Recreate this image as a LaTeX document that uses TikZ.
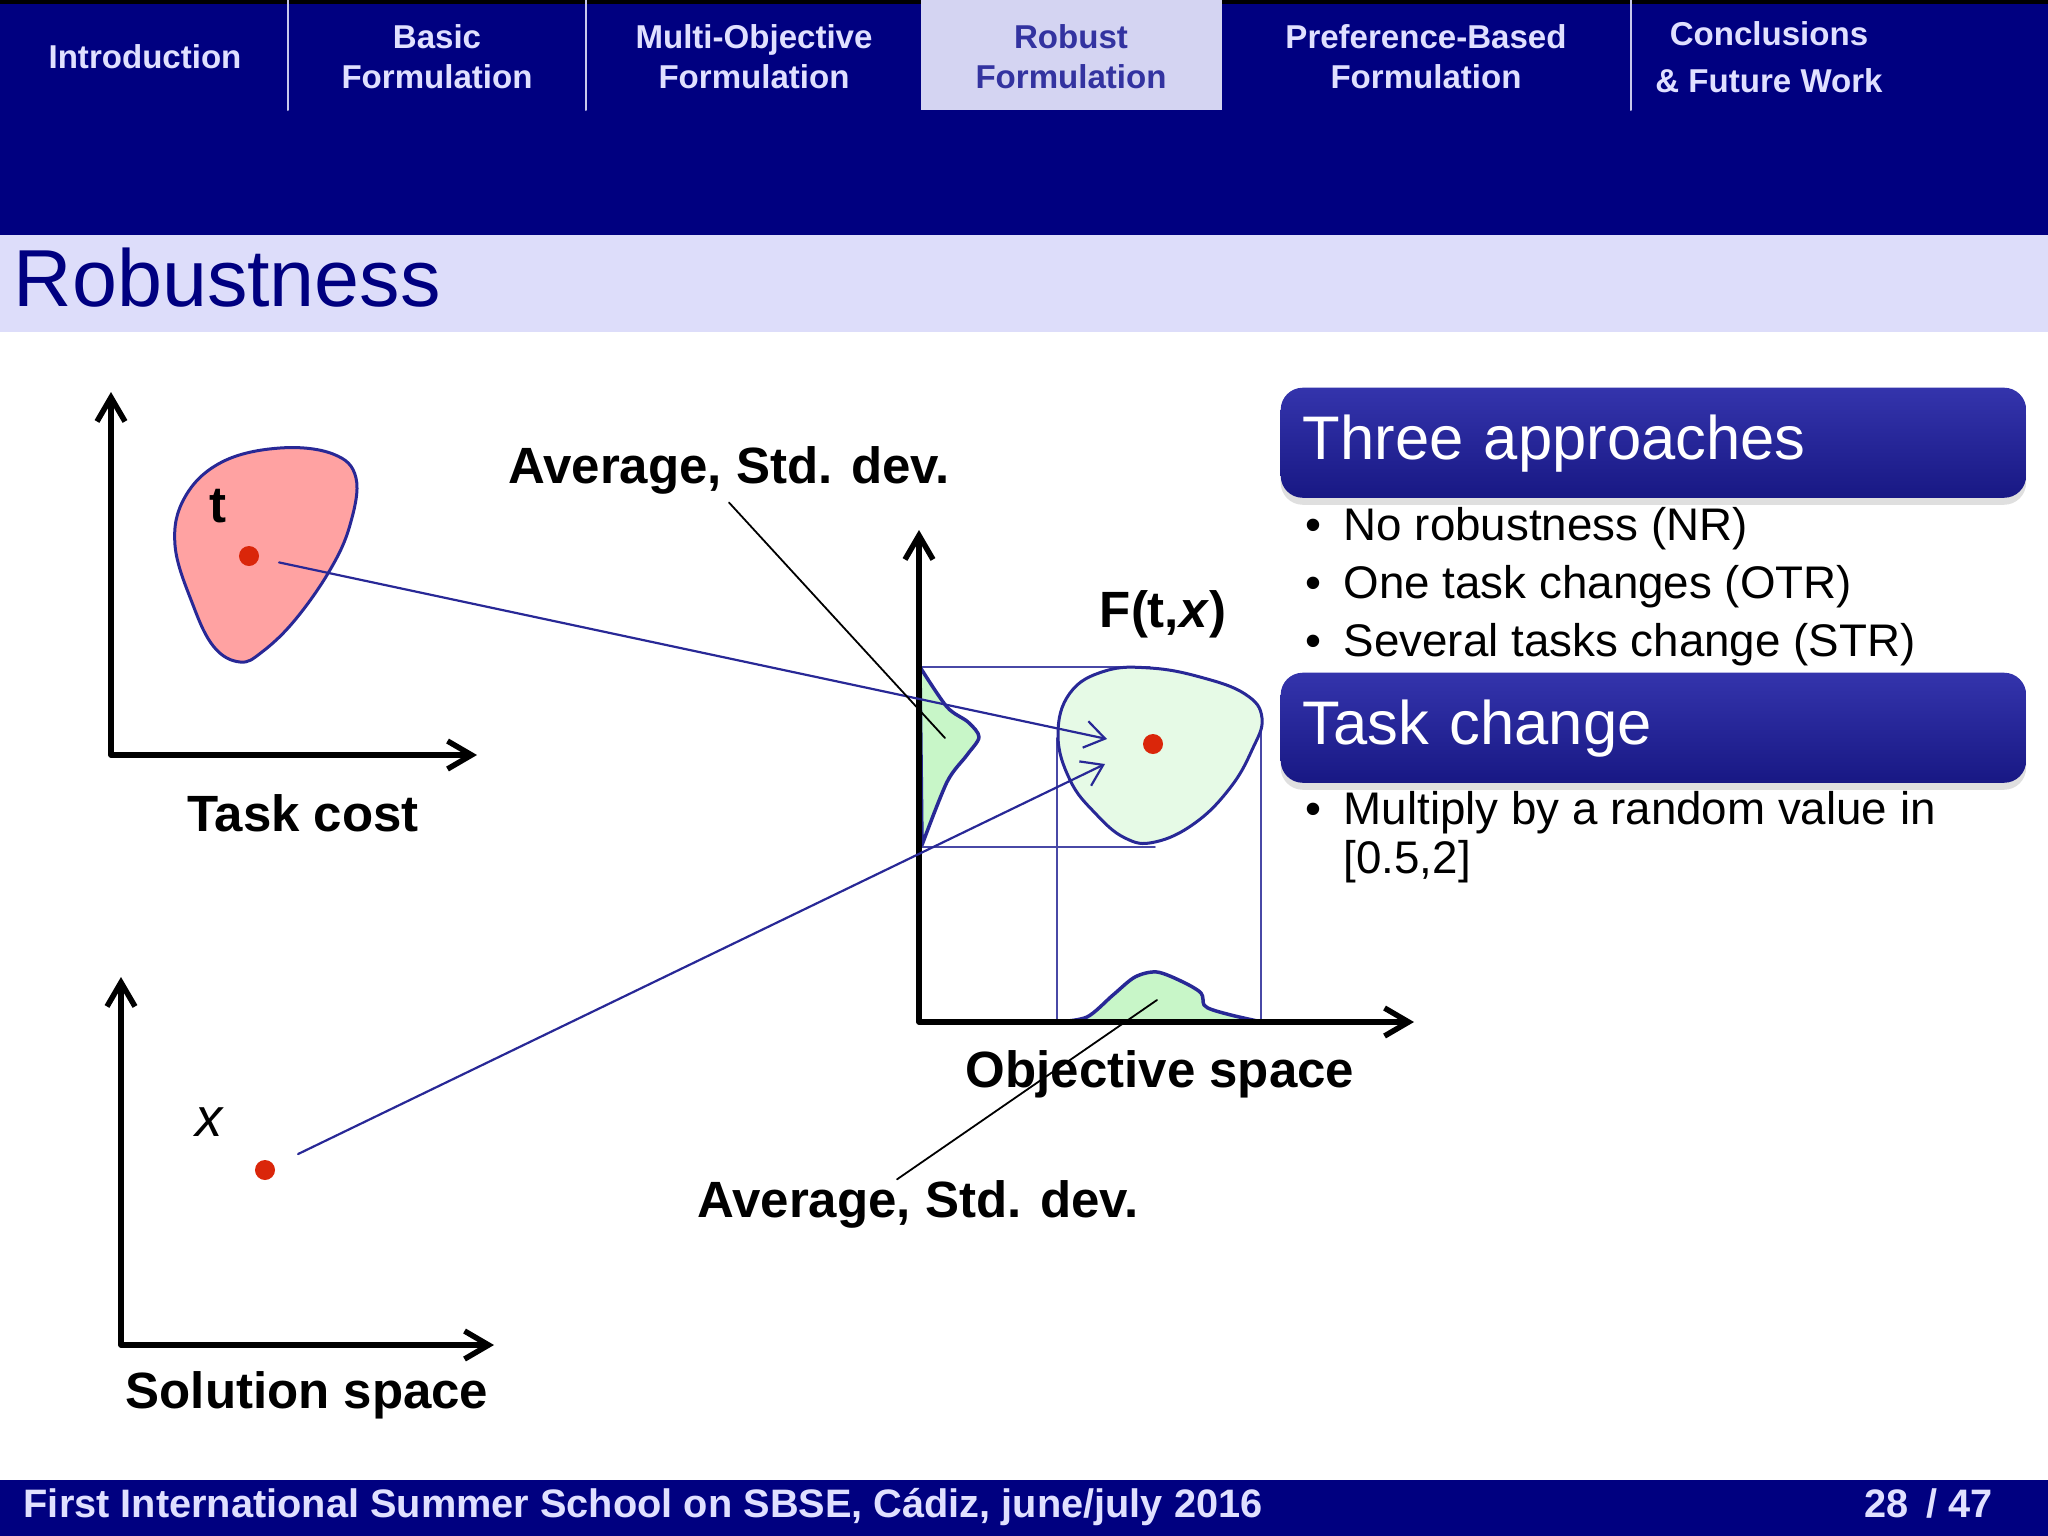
\documentclass[tikz,border=0pt]{standalone}
\usepackage{fontspec}
\setmainfont{Liberation Sans}
\usetikzlibrary{arrows.meta,shadows}
\definecolor{navy}{RGB}{0,0,128}
\definecolor{titlebg}{RGB}{221,221,250}
\definecolor{tabon}{RGB}{212,212,242}
\definecolor{tabtxt}{RGB}{224,224,255}
\definecolor{tabontxt}{RGB}{51,51,160}
\definecolor{sepline}{RGB}{200,200,235}
\definecolor{boxtop}{RGB}{52,52,172}
\definecolor{boxbot}{RGB}{24,24,132}
\definecolor{blobline}{RGB}{40,40,150}
\definecolor{pinkfill}{RGB}{255,162,162}
\definecolor{greenfill}{RGB}{230,250,230}
\definecolor{distfill}{RGB}{200,246,200}
\definecolor{dotred}{RGB}{218,38,10}
\begin{document}
\begin{tikzpicture}[x=0.01cm,y=-0.01cm, line join=round, line cap=round,
	>={Straight Barb[length=0.2cm,width=0.27cm]},
	tab/.style={align=center, text=tabtxt, font=\fontsize{9.4}{11.4}\selectfont\bfseries},
	lbl/.style={anchor=base, inner sep=0pt, font=\fontsize{14.5}{17}\selectfont\bfseries},
	item/.style={anchor=base west, inner sep=0pt, align=left, font=\fontsize{13}{13.7}\selectfont},
	headbox/.style={anchor=north west, rounded corners=0.22cm, top color=boxtop, bottom color=boxbot,
		drop shadow={shadow xshift=0pt, shadow yshift=-0.07cm, opacity=0.25},
		minimum width=7.45cm, minimum height=1.1cm, inner xsep=0.22cm, text width=7.01cm, align=left,
		text=white, text height=0.5cm, text depth=0.16cm, font=\fontsize{17.5}{21}\selectfont},
	axis/.style={line width=0.055cm, {Straight Barb[length=0.24cm,width=0.28cm]}-{Straight Barb[length=0.24cm,width=0.28cm]}},
	dot/.style={circle, fill=dotred, minimum size=0.2cm, inner sep=0pt},
	conn/.style={draw=blobline, line width=0.022cm, ->},
	proj/.style={draw=blobline!85, line width=0.018cm},
	pointer/.style={draw=black, line width=0.018cm},
	blob/.style={draw=blobline, line width=0.03cm},
	dist/.style={draw=blobline, line width=0.035cm, fill=distfill}]
\useasboundingbox (0,0) rectangle (2048,1536);
% header, title bar, footer
\fill[navy] (0,0) rectangle (2048,235);
\fill[black] (0,0) rectangle (2048,4);
\fill[tabon] (921,0) rectangle (1222,110);
\fill[titlebg] (0,235) rectangle (2048,332);
\fill[navy] (0,1480) rectangle (2048,1536);
\foreach \sx in {288,586,1631} \draw[sepline, line width=0.02cm] (\sx,0) -- (\sx,110);
\node[tab] (intro) at (145,57) {Introduction};
\node[tab] (basic) at (437,57) {Basic\\Formulation};
\node[tab] (multi) at (754,57) {Multi-Objective\\Formulation};
\node[tab, text=tabontxt] (robust) at (1071,57) {Robust\\Formulation};
\node[tab] (pref) at (1426,57) {Preference-Based\\Formulation};
\node[tab] (concl) at (1769,57) {Conclusions\\[0.07cm]\& Future Work};
\node[anchor=base west, inner sep=0pt, text=navy, font=\fontsize{23}{26}\selectfont] (title) at (13,306) {Robustness};
\node[anchor=base west, inner sep=0pt, text=tabtxt, font=\fontsize{11.3}{13}\selectfont\bfseries] (foot) at (23,1517)
	{First International Summer School on SBSE, C\'adiz, june/july 2016};
\node[anchor=base west, inner sep=0pt, text=tabtxt, font=\fontsize{11.3}{13}\selectfont\bfseries] (page) at (1864,1517) {28 \,/ 47};
% right column
\node[headbox] (apprbox) at (1280,387) {Three approaches};
\node[item] (nr) at (1343,540) {\llap{•\hspace{0.22cm}}No robustness (NR)};
\node[item] (otr) at (1343,598) {\llap{•\hspace{0.22cm}}One task changes (OTR)};
\node[item] (str) at (1343,656) {\llap{•\hspace{0.22cm}}Several tasks change (STR)};
\node[headbox] (chgbox) at (1280,672) {Task change};
\node[item] (mult) at (1343,873) {\llap{•\hspace{0.22cm}}Multiply by a random value in\\{}[0.5,2]};
% task cost
\draw[blob, fill=pinkfill] plot[smooth cycle, tension=0.65] coordinates {(240,662) (214,647) (193,605) (175,545)
	(185,497) (222,462) (280,448) (333,454) (356,478) (350,525) (330,570) (295,620) (262,652)};
\node[lbl] (tlbl) at (218,522) {t};
\node[dot] (tdot) at (249,556) {};
\draw[axis] (111,392) -- (111,755) -- (477,755);
\node[lbl] (taskcost) at (303,831) {Task cost};
% solution space
\node[lbl, font=\fontsize{15.5}{18}\selectfont\itshape] (xlbl) at (209,1136) {x};
\node[dot] (xdot) at (265,1170) {};
\draw[axis] (121,977) -- (121,1345) -- (494,1345);
\node[lbl] (solspace) at (307,1408) {Solution space};
% objective space
\draw[proj] (920,667) -- (1150,667);
\draw[proj] (920,847) -- (1155,847);
\draw[proj] (1057,738) -- (1057,1022);
\draw[proj] (1261,716) -- (1261,1022);
\draw[blob, fill=greenfill] plot[smooth cycle, tension=0.7] coordinates {(1058,735) (1070,693) (1105,671) (1150,668)
	(1200,677) (1245,694) (1262,718) (1252,750) (1230,788) (1195,823) (1155,842) (1125,838) (1095,813) (1070,780)};
\draw[dist] plot[smooth] coordinates {(920,667) (947,707) (968,722) (979,737) (967,755) (947,782) (922,845)} -- cycle;
\draw[dist] plot[smooth] coordinates {(1057,1022) (1087,1017) (1113,995) (1135,977) (1157,972) (1183,982)
	(1201,993) (1204,1005) (1213,1010) (1235,1016) (1262,1022)} -- cycle;
\node[dot] (fdot) at (1153,744) {};
\draw[axis] (919,530) -- (919,1022) -- (1414,1022);
\node[lbl] (flbl) at (1163,627) {F(t,\textit{x})};
\node[lbl] (objspace) at (1160,1087) {Objective space};
% mapping arrows
\coordinate (ftipa) at (1107,739);
\coordinate (ftipb) at (1105,764);
\draw[conn, shorten <=0.2cm] (tdot) -- (ftipa);
\draw[conn, shorten <=0.26cm] (xdot) -- (ftipb);
% average / std. dev. pointers
\node[lbl] (avgtop) at (729,483) {Average, Std. dev.};
\node[lbl] (avgbot) at (918,1217) {Average, Std. dev.};
\coordinate (avgtoptip) at (945,738);
\coordinate (avgbottip) at (1157,1000);
\draw[pointer] ([yshift=-0.08cm]avgtop.south) -- (avgtoptip);
\draw[pointer] ([xshift=-0.21cm]avgbot.north) -- (avgbottip);
\end{tikzpicture}
\end{document}
